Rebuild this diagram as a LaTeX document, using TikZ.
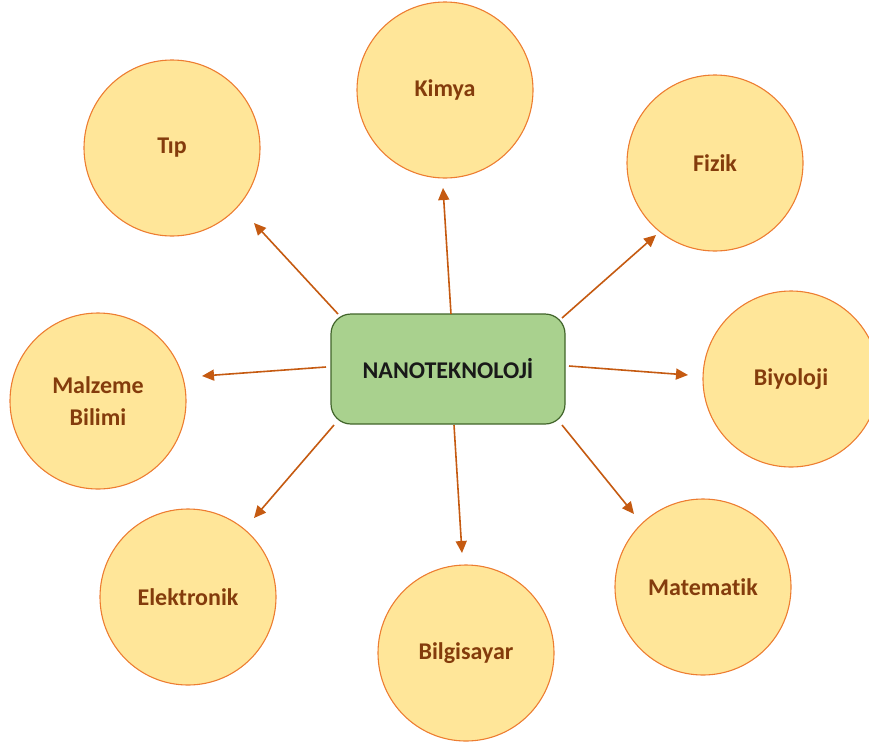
\documentclass[tikz,border=0pt]{standalone}
\usepackage{fontspec}
\setmainfont{Carlito}[Ligatures=NoCommon]
\usetikzlibrary{arrows.meta}
\definecolor{topicfill}{HTML}{FFE699}
\definecolor{topicline}{HTML}{ED7D31}
\definecolor{topictext}{HTML}{843C0C}
\definecolor{hubfill}{HTML}{A9D18E}
\definecolor{hubline}{HTML}{41642A}
\definecolor{link}{HTML}{C55A11}
\begin{document}
\begin{tikzpicture}[x=1pt,y=-1pt,
  topic/.style={circle, draw=topicline, line width=1.1pt, fill=topicfill,
    minimum size=176pt, inner sep=0pt, align=center, text=topictext,
    font=\fontsize{24}{32}\selectfont\bfseries},
  hub/.style={rectangle, rounded corners=20pt, draw=hubline, line width=1.2pt,
    fill=hubfill, minimum width=234pt, minimum height=110pt,
    font=\fontsize{24}{30}\selectfont\bfseries, text=black!90},
  link/.style={draw=link, line width=1.6pt, -{Triangle[length=12pt,width=11pt]}}]
\useasboundingbox (0,0) rectangle (869,747);

% central box
\node[hub] (hub) at (448,369) {NANOTEKNOLOJİ};

% surrounding fields
\node[topic] (tip)   at (172,148) {Tıp};
\node[topic] (kimya) at (445,90)  {Kimya};
\node[topic] (fizik) at (715,163) {Fizik};
\node[topic] (biyo)  at (791,379) {Biyoloji};
\node[topic] (mat)   at (703,587) {Matematik};
\node[topic] (bilg)  at (466,653) {Bilgisayar};
\node[topic] (elek)  at (188,597) {Elektronik};
\node[topic] (malz)  at (98,401)  {Malzeme\\Bilimi};

% arrow start points on the box outline
\coordinate (s1) at (338,314);
\coordinate (s2) at (451,314);
\coordinate (s3) at (562,318);
\coordinate (s4) at (569,366);
\coordinate (s5) at (562,425);
\coordinate (s6) at (454,425);
\coordinate (s7) at (334,425);
\coordinate (s8) at (326,367);

% arrow tips short of each circle
\coordinate (e1) at (254,223);
\coordinate (e2) at (443,188);
\coordinate (e3) at (656,235);
\coordinate (e4) at (688,375);
\coordinate (e5) at (634,514);
\coordinate (e6) at (462,553);
\coordinate (e7) at (254,518);
\coordinate (e8) at (202,376);

\foreach \i in {1,...,8} \draw[link] (s\i) -- (e\i);
\end{tikzpicture}
\end{document}
